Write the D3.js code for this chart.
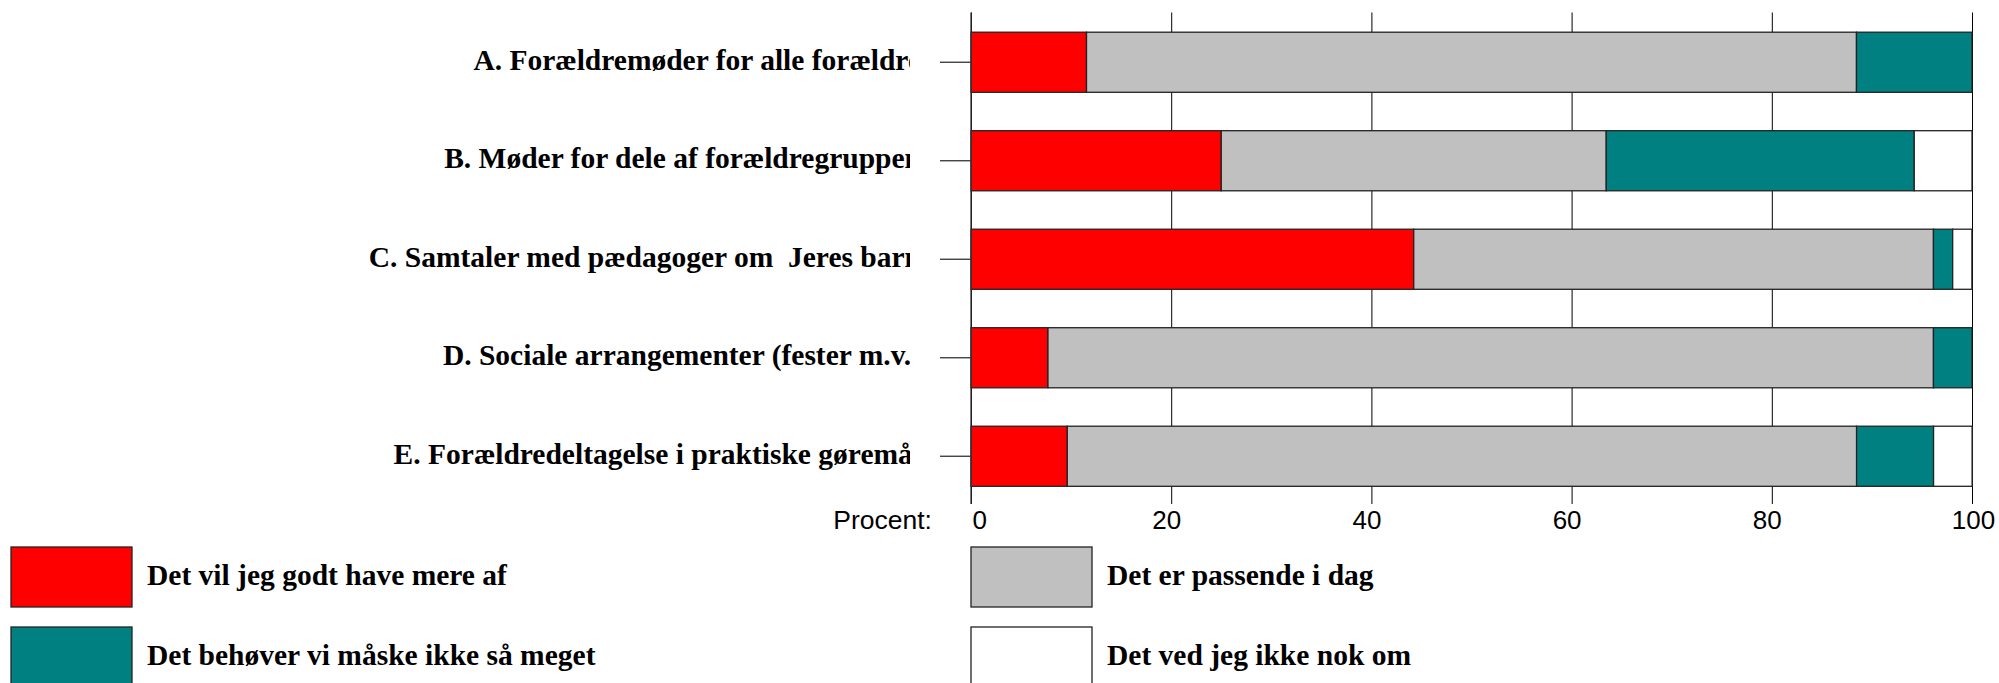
<!DOCTYPE html>
<html>
<head>
<meta charset="utf-8">
<script src="https://cdn.jsdelivr.net/npm/d3@7"></script>
<style>
  html, body { margin: 0; padding: 0; background: #fff; }
  svg { display: block; }
</style>
</head>
<body>
<svg id="chart" width="1999" height="683"></svg>
<script>
const categories = [
  "A. Forældremøder for alle forældre",
  "B. Møder for dele af forældregruppen",
  "C. Samtaler med pædagoger om  Jeres barn",
  "D. Sociale arrangementer (fester m.v.)",
  "E. Forældredeltagelse i praktiske gøremål"
];
const seriesNames = [
  "Det vil jeg godt have mere af",
  "Det er passende i dag",
  "Det behøver vi måske ikke så meget",
  "Det ved jeg ikke nok om"
];
const seriesColors = ["#FF0000", "#C0C0C0", "#008080", "#FFFFFF"];
const mereAf      = [11.54, 25.00, 44.23,  7.69,  9.62];
const passende    = [76.92, 38.46, 51.92, 88.46, 78.85];
const ikkeSaMeget = [11.54, 30.77,  1.92,  3.85,  7.69];
const vedIkke     = [ 0.00,  5.77,  1.92,  0.00,  3.85];
const tickValues  = [0, 20, 40, 60, 80, 100];
const axisTitle   = "Procent:";

const seriesValues = [mereAf, passende, ikkeSaMeget, vedIkke];
const rows = categories.map((c, i) => {
  const r = { cat: c };
  seriesNames.forEach((s, j) => r[s] = seriesValues[j][i]);
  return r;
});

const svg = d3.select("#chart");
const plotTop = 12.5, plotBottom = 504;
const x = d3.scaleLinear().domain([0, 100]).range([971, 1972]);
const y = d3.scaleBand().domain(categories).range([12.5, 506]).paddingInner(0.39).paddingOuter(0.2);

// Gridlines
svg.append("g")
  .attr("transform", `translate(0,${plotBottom})`)
  .call(d3.axisBottom(x).tickValues(tickValues).tickSize(-(plotBottom - plotTop)).tickFormat(""))
  .call(g => g.select(".domain").remove())
  .call(g => g.selectAll("line").attr("stroke", "#000").attr("stroke-width", 1));

// Stacked bars
const stack = d3.stack().keys(seriesNames)(rows);
svg.append("g").selectAll("g")
  .data(stack).join("g")
  .attr("fill", (d, i) => seriesColors[i])
  .selectAll("rect")
  .data(d => d.filter(p => p[1] - p[0] > 0))
  .join("rect")
  .attr("x", d => x(d[0]))
  .attr("y", d => y(d.data.cat))
  .attr("width", d => x(d[1]) - x(d[0]))
  .attr("height", y.bandwidth())
  .attr("stroke", "#222")
  .attr("stroke-width", 1.3);

// Category axis
const yAxisG = svg.append("g")
  .attr("transform", `translate(${x(0)},0)`)
  .call(d3.axisLeft(y).tickSize(31).tickPadding(19))
  .call(g => g.select(".domain").attr("d", `M0,${plotTop}V${plotBottom}`).attr("stroke", "#333").attr("stroke-width", 1.3))
  .call(g => g.selectAll(".tick line").attr("stroke", "#333").attr("stroke-width", 1.3));

svg.append("defs").append("clipPath").attr("id", "labclip")
  .append("rect").attr("x", -1000).attr("y", -60).attr("width", 1000 - (x(0) - 910)).attr("height", 120);

yAxisG.selectAll(".tick text")
  .attr("font-family", "'Liberation Serif', 'Times New Roman', serif")
  .attr("font-weight", "bold")
  .attr("font-size", "29.5px")
  .attr("fill", "#000")
  .attr("dy", "0.26em")
  .attr("clip-path", "url(#labclip)")
  .style("white-space", "pre");

// Value axis labels
const xAxisG = svg.append("g")
  .attr("transform", `translate(0,${plotBottom})`)
  .call(d3.axisBottom(x).tickValues(tickValues).tickSize(0).tickFormat(d3.format("d")))
  .call(g => g.select(".domain").remove());
xAxisG.selectAll(".tick text")
  .attr("font-family", "'Liberation Sans', Arial, sans-serif")
  .attr("font-size", "26px")
  .attr("fill", "#000")
  .attr("y", 25)
  .attr("dy", 0)
  .attr("text-anchor", (d, i) => i === 0 ? "start" : "middle")
  .attr("dx", (d, i) => (i === 0 || i === tickValues.length - 1) ? 1 : -5);

svg.append("text")
  .attr("x", 932).attr("y", plotBottom + 25)
  .attr("text-anchor", "end")
  .attr("font-family", "'Liberation Sans', Arial, sans-serif")
  .attr("font-size", "26.5px")
  .attr("fill", "#000")
  .text(axisTitle);

// Legend
const legendPos = [[11, 547], [971, 547], [11, 627], [971, 627]];
const legend = svg.append("g").selectAll("g")
  .data(seriesNames).join("g")
  .attr("transform", (d, i) => `translate(${legendPos[i][0]},${legendPos[i][1]})`);
legend.append("rect")
  .attr("width", 121).attr("height", 60)
  .attr("fill", (d, i) => seriesColors[i])
  .attr("stroke", "#222").attr("stroke-width", 1.3);
legend.append("text")
  .attr("x", 136).attr("y", 38)
  .attr("font-family", "'Liberation Serif', 'Times New Roman', serif")
  .attr("font-weight", "bold")
  .attr("font-size", "29.5px")
  .attr("fill", "#000")
  .text(d => d);
</script>
</body>
</html>
